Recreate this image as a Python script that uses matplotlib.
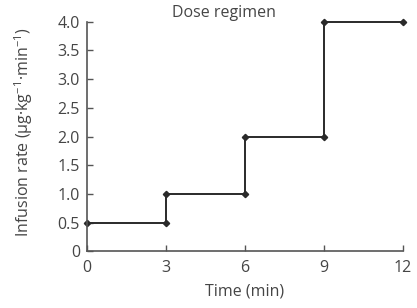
import matplotlib.pyplot as plt

time_min = [0, 3, 3, 6, 6, 9, 9, 12]
rate = [0.5, 0.5, 1.0, 1.0, 2.0, 2.0, 4.0, 4.0]
x_ticks = [0, 3, 6, 9, 12]
y_ticks = [0, 0.5, 1.0, 1.5, 2.0, 2.5, 3.0, 3.5, 4.0]
y_tick_labels = ['0', '0.5', '1.0', '1.5', '2.0', '2.5', '3.0', '3.5', '4.0']

plt.rcParams['font.family'] = ['Open Sans', 'DejaVu Sans']
plt.rcParams['mathtext.fontset'] = 'custom'
plt.rcParams['mathtext.rm'] = 'Open Sans'
plt.rcParams['mathtext.it'] = 'Open Sans'

text_col = '#454545'
fig = plt.figure(figsize=(4.17, 3.08), dpi=100)
ax = fig.add_axes([0.2086, 0.184, 0.7574, 0.7455])

ax.plot(time_min, rate, color='#2a2a2a', linewidth=1.4, marker='D', markersize=3.2, clip_on=False)

ax.set_xlim(0, 12)
ax.set_ylim(0, 4.0)
ax.set_xticks(x_ticks)
ax.set_yticks(y_ticks)
ax.set_yticklabels(y_tick_labels)

for s in ['top', 'right']:
    ax.spines[s].set_visible(False)
for s in ['left', 'bottom']:
    ax.spines[s].set_color('#555555')
    ax.spines[s].set_linewidth(1.2)

ax.tick_params(axis='both', direction='in', length=4, width=1, color='#555555',
               labelsize=11.5, labelcolor=text_col)
ax.tick_params(axis='x', pad=6)
ax.tick_params(axis='y', pad=5)

ax.set_xlabel('Time (min)', fontsize=11.5, color=text_col, labelpad=6)
ax.set_ylabel('Infusion rate (μg·kg$^{-1}$·min$^{-1}$)', fontsize=11.5, color=text_col)
ax.yaxis.set_label_coords(-0.165, 0.52)
ax.text(0.435, 1.038, 'Dose regimen', transform=ax.transAxes, ha='center', va='center',
        fontsize=11.5, color=text_col)

fig.savefig('out.png', dpi=100)
